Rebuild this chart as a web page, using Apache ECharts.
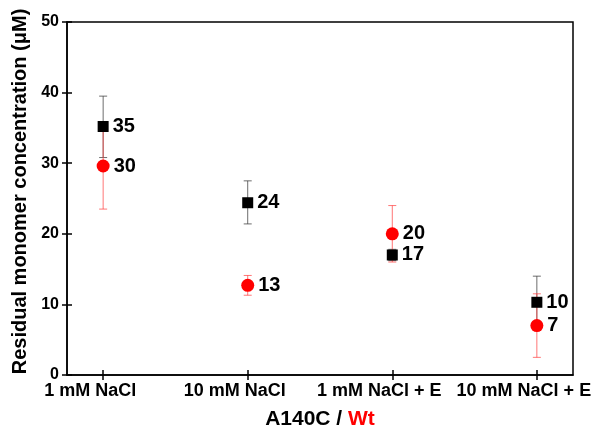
<!DOCTYPE html>
<html>
<head>
<meta charset="utf-8">
<script src="https://cdn.jsdelivr.net/npm/echarts@6/dist/echarts.min.js"></script>
<style>
  html, body { margin: 0; padding: 0; background: #fff; }
  #chart { width: 592px; height: 434px; }
</style>
</head>
<body>
<div id="chart"></div>
<script>
  // conditions on the x axis
  const categories = ['1 mM NaCl', '10 mM NaCl', '1 mM NaCl + E', '10 mM NaCl + E']
  // A140C (black squares)
  const mutValues = [35.2, 24.4, 17.0, 10.3]
  const mutLow = [30.8, 21.4, 16.2, 6.6]
  const mutHigh = [39.5, 27.5, 17.8, 14.0]
  const mutLabels = ['35', '24', '17', '10']
  // Wt (red circles)
  const wtValues = [29.6, 12.7, 20.0, 7.0]
  const wtLow = [23.5, 11.3, 16.0, 2.5]
  const wtHigh = [35.7, 14.1, 24.0, 11.5]
  const wtLabels = ['30', '13', '20', '7']
  const yTicks = [0, 10, 20, 30, 40, 50]

  const font = 'Liberation Sans, Arial, sans-serif'
  const chart = echarts.init(document.getElementById('chart'))

  function errorSeries(low, high, color) {
    return {
      type: 'custom',
      silent: true,
      z: 1,
      data: low.map((v, i) => [i, v, high[i]]),
      renderItem(params, api) {
        const lo = api.coord([api.value(0), api.value(1)])
        const hi = api.coord([api.value(0), api.value(2)])
        const w = 4
        const style = { stroke: color, lineWidth: 1 }
        return {
          type: 'group',
          children: [
            { type: 'line', shape: { x1: lo[0], y1: lo[1], x2: hi[0], y2: hi[1] }, style },
            { type: 'line', shape: { x1: lo[0] - w, y1: lo[1], x2: lo[0] + w, y2: lo[1] }, style },
            { type: 'line', shape: { x1: hi[0] - w, y1: hi[1], x2: hi[0] + w, y2: hi[1] }, style }
          ]
        }
      }
    }
  }

  function pointSeries(values, labels, symbol, size, color) {
    return {
      type: 'scatter',
      symbol: symbol,
      symbolSize: size,
      z: 3,
      itemStyle: { color: color, opacity: 1 },
      data: values.map((v, i) => [i, v]),
      label: {
        show: true,
        position: 'right',
        distance: 4,
        formatter: p => labels[p.dataIndex],
        color: '#000',
        opacity: 1,
        fontFamily: font,
        fontWeight: 'bold',
        fontSize: 20
      }
    }
  }

  const axisLine = { show: true, onZero: false, lineStyle: { color: '#000', width: 1.5 } }

  const option = {
    animation: false,
    grid: {
      left: 67, right: 19, top: 22, bottom: 59,
      outerBoundsMode: 'none',
      show: true, borderColor: '#000', borderWidth: 1.5
    },
    xAxis: [
      {
        type: 'value',
        min: -0.25,
        max: 3.25,
        axisLine: axisLine,
        splitLine: { show: false },
        axisTick: { show: true, length: 5, customValues: [0, 1, 2, 3], lineStyle: { color: '#000', width: 1.5 } },
        axisLabel: {
          customValues: [0, 1, 2, 3],
          // labels sit a bit left of their ticks in the original
          formatter: v => '{c|' + categories[Math.round(v)] + '}',
          margin: 7,
          rich: {
            c: { color: '#000', fontFamily: font, fontWeight: 'bold', fontSize: 18, padding: [0, 26, 0, 0] }
          }
        },
        name: '{a|A140C / }{b|Wt}',
        nameLocation: 'middle',
        nameGap: 34,
        nameTextStyle: {
          rich: {
            a: { color: '#000', fontFamily: font, fontWeight: 'bold', fontSize: 21 },
            b: { color: '#ff0000', fontFamily: font, fontWeight: 'bold', fontSize: 21 }
          }
        }
      },
      {
        type: 'value',
        position: 'bottom',
        min: -0.25,
        max: 3.25,
        axisLine: { show: false, onZero: false },
        splitLine: { show: false },
        axisLabel: { show: false },
        axisTick: { show: true, inside: true, length: 5, customValues: [0, 1, 2, 3], lineStyle: { color: '#000', width: 1.5 } }
      }
    ],
    yAxis: [
      {
        type: 'value',
        min: 0,
        max: 50,
        interval: 10,
        axisLine: axisLine,
        splitLine: { show: false },
        axisTick: { show: true, length: 5, lineStyle: { color: '#000', width: 1.5 } },
        axisLabel: {
          formatter: v => yTicks.includes(v) ? String(v) : '',
          color: '#000', fontFamily: font, fontWeight: 'bold', fontSize: 16, margin: 8
        },
        name: 'Residual monomer concentration (\u03bcM)',
        nameLocation: 'middle',
        nameGap: 34,
        nameTextStyle: { color: '#000', fontFamily: font, fontWeight: 'bold', fontSize: 20, padding: [0, 0, 0, 14] }
      },
      {
        type: 'value',
        position: 'left',
        min: 0,
        max: 50,
        interval: 10,
        axisLine: { show: false, onZero: false },
        splitLine: { show: false },
        axisLabel: { show: false },
        axisTick: { show: true, inside: true, length: 5, lineStyle: { color: '#000', width: 1.5 } }
      }
    ],
    series: [
      errorSeries(mutLow, mutHigh, 'rgba(60,60,60,0.75)'),
      errorSeries(wtLow, wtHigh, 'rgba(255,60,60,0.7)'),
      pointSeries(mutValues, mutLabels, 'rect', 11, '#000'),
      pointSeries(wtValues, wtLabels, 'circle', 13, '#ff0000')
    ]
  }

  chart.setOption(option)
</script>
</body>
</html>
